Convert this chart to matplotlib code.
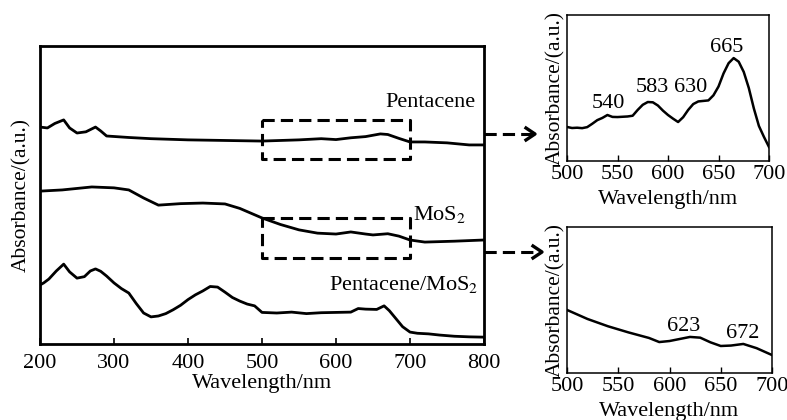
import numpy as np
import matplotlib.pyplot as plt
from matplotlib.lines import Line2D

plt.rcParams['font.family'] = ['Liberation Serif', 'DejaVu Serif']
plt.rcParams['mathtext.fontset'] = 'stix'

# main panel, arbitrary units (offset stacked)
wl_pen = [200, 210, 220, 232, 240, 250, 262, 275, 282, 290, 320, 350, 400, 450, 500,
          550, 580, 600, 620, 640, 660, 670, 685, 700, 720, 750, 780, 800]
abs_pen = [72.8, 72.5, 74.0, 75.2, 72.5, 70.8, 71.2, 72.8, 71.5, 69.8, 69.3, 68.9, 68.5, 68.3, 68.1,
           68.5, 68.9, 68.6, 69.2, 69.6, 70.5, 70.3, 69.0, 67.8, 67.8, 67.5, 66.8, 66.8]

wl_mos = [200, 230, 270, 300, 320, 340, 360, 390, 420, 450, 470, 500, 525, 550, 575,
          600, 620, 640, 650, 670, 685, 700, 720, 760, 800]
abs_mos = [51.3, 51.7, 52.7, 52.4, 51.7, 49.0, 46.6, 47.1, 47.3, 47.0, 45.5, 42.3, 40.1, 38.3, 37.2,
           36.9, 37.6, 36.9, 36.6, 37.0, 36.2, 34.9, 34.2, 34.5, 34.9]

wl_mix = [200, 205, 212, 222, 232, 240, 250, 260, 268, 275, 282, 290, 300, 310, 320,
          330, 340, 350, 360, 370, 380, 390, 400, 410, 420, 430, 440, 450, 460, 470,
          480, 490, 500, 520, 540, 560, 580, 600, 620, 630, 640, 655, 665, 672, 680,
          690, 700, 710, 725, 740, 760, 780, 800]
abs_mix = [19.8, 20.5, 21.8, 24.5, 26.8, 24.2, 22.1, 22.6, 24.5, 25.2, 24.4, 22.8, 20.5, 18.6, 17.1,
           13.6, 10.4, 9.1, 9.4, 10.2, 11.5, 13.0, 14.9, 16.5, 17.8, 19.3, 19.1, 17.4, 15.6, 14.4,
           13.4, 12.8, 10.6, 10.4, 10.7, 10.2, 10.5, 10.6, 10.7, 11.9, 11.7, 11.6, 12.8, 11.2, 8.8,
           5.8, 4.0, 3.6, 3.4, 3.0, 2.6, 2.4, 2.3]

# inset 1: pentacene 500-700 nm
wl_in1 = [500, 505, 510, 515, 520, 525, 530, 535, 540, 545, 550, 560, 565, 570, 575,
          580, 585, 590, 595, 600, 605, 610, 615, 620, 625, 630, 640, 645, 650, 655,
          660, 665, 670, 675, 680, 685, 690, 695, 700]
abs_in1 = [23.3, 22.6, 22.8, 22.5, 23.2, 25.5, 28.0, 29.5, 31.5, 30.2, 30.1, 30.5, 31.0, 35.0, 38.5,
           40.4, 40.2, 38.0, 34.5, 31.5, 29.0, 26.7, 30.0, 35.0, 39.0, 40.8, 41.5, 45.0, 51.0, 60.0,
           67.0, 70.5, 68.0, 61.0, 50.0, 36.0, 24.0, 16.5, 9.6]
peaks_in1 = [540, 583, 630, 665]

# inset 2: MoS2 500-700 nm
wl_in2 = [500, 520, 540, 560, 580, 590, 600, 610, 620, 630, 640, 650, 660, 672, 685, 700]
abs_in2 = [43.2, 37.0, 32.0, 27.8, 24.0, 21.2, 21.9, 23.3, 24.7, 24.2, 21.0, 18.5, 18.8, 19.9, 17.0, 12.3]
peaks_in2 = [623, 672]

W, H = 787, 420


def fx(px):
    return px / W


def fy(py):
    return 1 - py / H


def main_x(px):
    # pixel column of the reference -> wavelength on main axis
    return (px - 40) / 444 * 600 + 200


fig = plt.figure(figsize=(7.87, 4.2), dpi=100)

# ---- main panel
ax = fig.add_axes([fx(40), fy(344), 444 / W, 298 / H])
for x, y in [(wl_pen, abs_pen), (wl_mos, abs_mos), (wl_mix, abs_mix)]:
    ax.plot(x, y, color='black', lw=2.0)
ax.set_xlim(200, 800)
ax.set_ylim(0, 100)
ax.set_xticks([200, 300, 400, 500, 600, 700, 800])
ax.set_yticks([])
ax.tick_params(axis='x', direction='in', length=4, width=1.2, labelsize=16, pad=7)
for s in ax.spines.values():
    s.set_linewidth(2.0)
ax.set_xlabel('Wavelength/nm', fontsize=16, labelpad=1)
ax.set_ylabel('Absorbance/(a.u.)', fontsize=15.5, labelpad=6)

ax.text(main_x(476), 81.2, 'Pentacene', fontsize=16, ha='right', va='center')
ax.text(main_x(413), 43.5, 'MoS$_2$', fontsize=16, ha='left', va='center')
ax.text(main_x(478), 19.8, 'Pentacene/MoS$_2$', fontsize=16, ha='right', va='center')

# dashed zoom boxes
dash = dict(color='black', lw=2.2, ls=(0, (4, 2)))
for top, bot in [(75.2, 62.1), (42.3, 28.9)]:
    ax.plot([500, 700, 700, 500, 500], [top, top, bot, bot, top], **dash)

# ---- insets
def style_inset(a):
    a.set_xlim(500, 700)
    a.set_xticks([500, 550, 600, 650, 700])
    a.set_yticks([])
    a.tick_params(axis='x', direction='in', length=4, width=1, labelsize=16, pad=3)
    for s in a.spines.values():
        s.set_linewidth(1.1)
    a.set_xlabel('Wavelength/nm', fontsize=16, labelpad=4)
    a.set_ylabel('Absorbance/(a.u.)', fontsize=15.5, labelpad=1)


ax1 = fig.add_axes([fx(567), fy(161), 202 / W, 146 / H])
ax1.plot(wl_in1, abs_in1, color='black', lw=1.8)
ax1.set_ylim(0, 100)
style_inset(ax1)
lab1 = [(541, 39.7), (584, 50.0), (622, 50.0), (658, 78.0)]
for p, (x, y) in zip(peaks_in1, lab1):
    ax1.text(x, y, str(p), fontsize=16, ha='center', va='center')

ax2 = fig.add_axes([fx(567), fy(373), 205 / W, 146 / H])
ax2.plot(wl_in2, abs_in2, color='black', lw=1.8)
ax2.set_ylim(0, 100)
style_inset(ax2)
lab2 = [(614, 32.0), (671, 27.0)]
for p, (x, y) in zip(peaks_in2, lab2):
    ax2.text(x, y, str(p), fontsize=16, ha='center', va='center')

# ---- dashed arrows from boxes to insets
for y0, xend in [(134, 535), (252, 542)]:
    fig.add_artist(Line2D([fx(484), fx(xend - 2)], [fy(y0), fy(y0)],
                          transform=fig.transFigure, color='black', lw=2.2, ls=(0, (4, 2))))
    fig.add_artist(Line2D([fx(xend - 9), fx(xend), fx(xend - 9)],
                          [fy(y0 - 6), fy(y0), fy(y0 + 6)],
                          transform=fig.transFigure, color='black', lw=2.4))

fig.savefig('out.png', dpi=100)
